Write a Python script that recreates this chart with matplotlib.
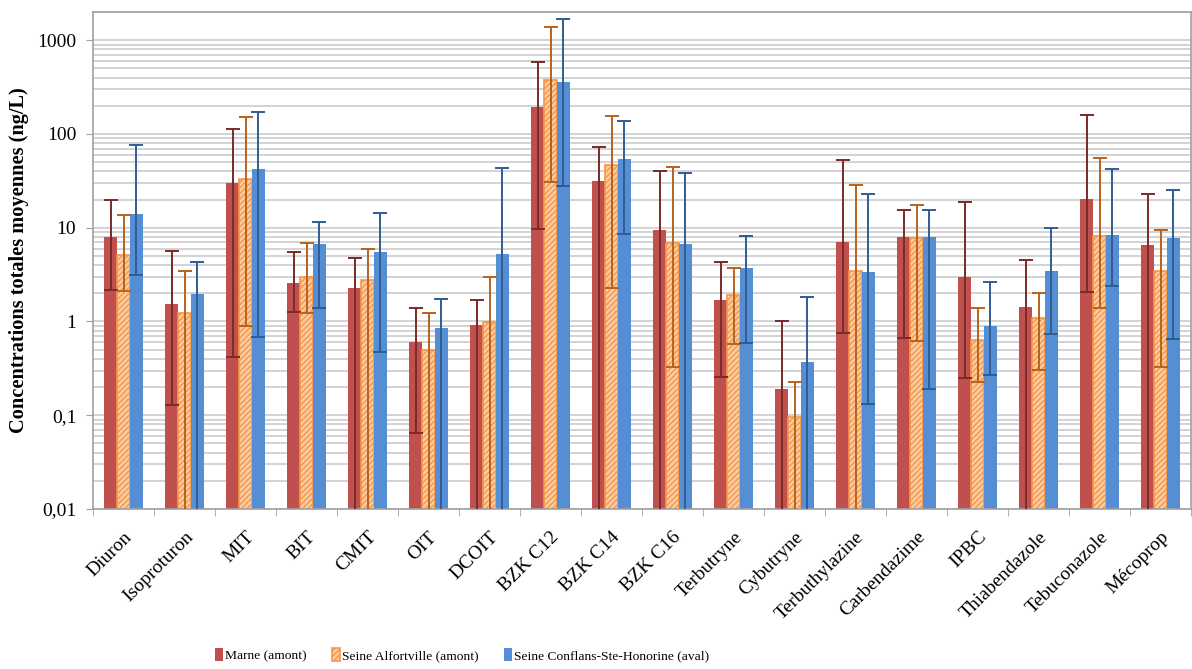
import numpy as np
import matplotlib
matplotlib.use("Agg")
import matplotlib.pyplot as plt
from matplotlib.ticker import FixedLocator, NullFormatter

categories = ["Diuron", "Isoproturon", "MIT", "BIT", "CMIT", "OIT", "DCOIT", "BZK C12",
              "BZK C14", "BZK C16", "Terbutryne", "Cybutryne", "Terbuthylazine",
              "Carbendazime", "IPBC", "Thiabendazole", "Tebuconazole", "Mécoprop"]

series_names = ["Marne (amont)", "Seine Alfortville (amont)", "Seine Conflans-Ste-Honorine (aval)"]

# mean values (ng/L)
marne = [8.0, 1.54, 30.2, 2.55, 2.30, 0.61, 0.91, 192, 31.2, 9.57, 1.68, 0.19, 7.07, 8.0, 2.96, 1.43, 20.2, 6.56]
alfort = [5.13, 1.23, 33.5, 3.01, 2.75, 0.50, 0.99, 380, 47.0, 6.83, 1.92, 0.096, 3.49, 7.73, 0.634, 1.10, 8.11, 3.43]
conflans = [13.9, 1.98, 42.6, 6.78, 5.52, 0.859, 5.26, 356, 54.0, 6.73, 3.73, 0.372, 3.35, 8.0, 0.895, 3.46, 8.46, 7.73]

# error bar upper / lower bounds (ng/L); 0.001 = below the axis minimum
marne_hi = [19.9, 5.7, 112, 5.57, 4.77, 1.38, 1.68, 582, 71.9, 40.5, 4.32, 1.0, 52.6, 15.6, 18.6, 4.5, 159, 22.8]
marne_lo = [2.17, 0.129, 0.414, 1.25, 0.001, 0.0644, 0.001, 9.7, 0.001, 0.001, 0.253, 0.001, 0.753, 0.667, 0.247, 0.001, 2.08, 0.001]
alfort_hi = [13.8, 3.43, 150, 6.95, 5.95, 1.22, 2.96, 1388, 154, 44.3, 3.73, 0.227, 28.9, 17.4, 1.38, 2.02, 54.9, 9.5]
alfort_lo = [2.1, 0.001, 0.895, 1.22, 0.001, 0.001, 0.001, 30.6, 2.28, 0.327, 0.569, 0.001, 0.001, 0.613, 0.224, 0.305, 1.40, 0.325]
conflans_hi = [76, 4.28, 171, 11.5, 14.4, 1.75, 43.6, 1690, 136, 38.2, 8.11, 1.81, 22.8, 15.6, 2.62, 10.0, 42.6, 24.97]
conflans_lo = [3.16, 0.001, 0.676, 1.38, 0.472, 0.001, 0.001, 28.2, 8.53, 0.001, 0.589, 0.001, 0.131, 0.191, 0.272, 0.741, 2.39, 0.65]

y_ticks = [0.01, 0.1, 1, 10, 100, 1000]
y_ticklabels = ["0,01", "0,1", "1", "10", "100", "1000"]

plt.rcParams['font.family'] = ['Liberation Serif', 'DejaVu Serif']
plt.rcParams['hatch.color'] = '#F79646'
plt.rcParams['hatch.linewidth'] = 1.0

fig = plt.figure(figsize=(11.92, 6.69), dpi=100)
ax = fig.add_axes([93/1192, 1 - 509/669, 1098/1192, (509 - 12)/669])
ax.set_yscale('log')
ax.set_ylim(0.01, 2000)
n = len(categories)
ax.set_xlim(-0.5, n - 0.5)

x = np.arange(n)
w = 0.21
bar_colors = ['#C0504D', '#FBCDA5', '#558ED5']
err_colors = ['#7A2A28', '#B8621C', '#2F5C93']
vals = [marne, alfort, conflans]
his = [marne_hi, alfort_hi, conflans_hi]
los = [marne_lo, alfort_lo, conflans_lo]
offsets = [-w, 0, w]

handles = []
for i in range(3):
    v = np.array(vals[i])
    hi = np.array(his[i])
    lo = np.array(los[i])
    if i == 1:
        b = ax.bar(x + offsets[i], v - 1e-4, width=w, bottom=1e-4, color=bar_colors[i],
                   edgecolor='#F79646', hatch='//////', linewidth=1.2, zorder=2,
                   label=series_names[i])
    else:
        b = ax.bar(x + offsets[i], v - 1e-4, width=w, bottom=1e-4, color=bar_colors[i],
                   edgecolor='none', zorder=2, label=series_names[i])
    handles.append(b)
    ax.errorbar(x + offsets[i], v, yerr=[v - lo, hi - v], fmt='none',
                ecolor=err_colors[i], elinewidth=1.4, capsize=5, capthick=1.4, zorder=3)

# grid
ax.set_axisbelow(True)
ax.yaxis.set_major_locator(FixedLocator(y_ticks))
ax.set_yticklabels(y_ticklabels)
minors = [m * 10.0 ** e for e in range(-2, 3) for m in range(2, 10)] + [2000]
ax.yaxis.set_minor_locator(FixedLocator(minors))
ax.yaxis.set_minor_formatter(NullFormatter())
ax.grid(True, which='both', axis='y', color='#C8C8C8', linewidth=1.1)
ax.tick_params(axis='y', which='major', length=5, color='#A0A0A0', labelsize=14, pad=7)
ax.tick_params(axis='y', which='minor', length=0)

ax.set_xticks(x)
ax.set_xticklabels(categories, rotation=45, ha='right', rotation_mode='anchor', fontsize=14)
ax.set_xticks(np.arange(n + 1) - 0.5, minor=True)
ax.tick_params(axis='x', which='major', length=0, pad=14)
ax.tick_params(axis='x', which='minor', length=5, color='#A0A0A0')

for s in ['left', 'bottom', 'top', 'right']:
    ax.spines[s].set_color('#A0A0A0')
    ax.spines[s].set_linewidth(1.2)

ax.set_ylabel("Concentrations totales moyennes (ng/L)", fontsize=14.7, fontweight='bold', labelpad=6)

leg = fig.legend(handles=handles, labels=series_names, loc='center',
                 bbox_to_anchor=(462/1192, 1 - 655/669),
                 ncol=3, frameon=False, fontsize=9.7, handlelength=0.6, handleheight=1.1,
                 handletextpad=0.15, columnspacing=1.9)

fig.savefig("out.png", dpi=100)
